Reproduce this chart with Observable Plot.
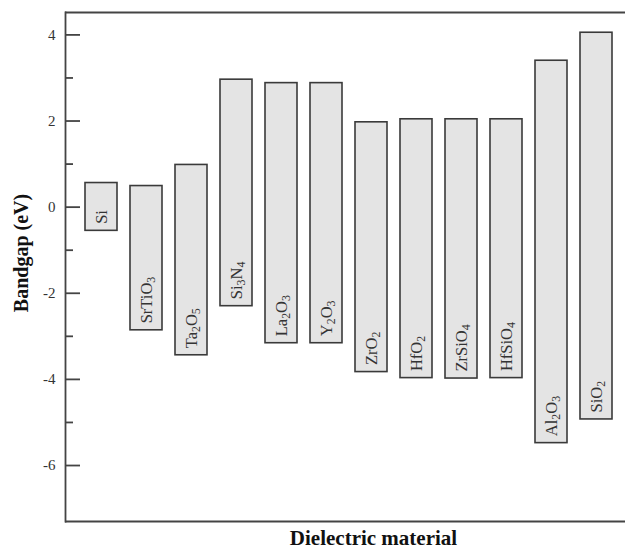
<!DOCTYPE html>
<html>
<head>
<meta charset="utf-8">
<script src="https://cdn.jsdelivr.net/npm/d3@7"></script>
<script src="https://cdn.jsdelivr.net/npm/@observablehq/plot@0.6"></script>
<style>
  html, body { margin: 0; padding: 0; background: #fff; }
  #chart svg { display: block; }
</style>
</head>
<body>
<div id="chart"></div>
<script>
// Dielectric materials (in plot order)
const materials = ["Si", "SrTiO₃", "Ta₂O₅", "Si₃N₄", "La₂O₃", "Y₂O₃", "ZrO₂", "HfO₂", "ZrSiO₄", "HfSiO₄", "Al₂O₃", "SiO₂"];
// Conduction-band edge (top of bar), eV
const conductionBand = [0.56, 0.49, 0.98, 2.96, 2.88, 2.88, 1.97, 2.04, 2.04, 2.04, 3.40, 4.05];
// Valence-band edge (bottom of bar), eV
const valenceBand = [-0.55, -2.86, -3.44, -2.30, -3.16, -3.16, -3.83, -3.97, -3.98, -3.97, -5.48, -4.93];
// Axis ticks
const majorTicks = [-6, -4, -2, 0, 2, 4];
const minorTicks = [-5, -3, -1, 1, 3];
const yDomain = [-7.3, 4.52];
const yLabel = "Bandgap (eV)";
const xLabel = "Dielectric material";

const data = materials.map((name, i) => ({name, cb: conductionBand[i], vb: valenceBand[i]}));

const serif = "'Liberation Serif', 'DejaVu Serif', 'Times New Roman', serif";

const chart = Plot.plot({
  width: 625,
  height: 549,
  marginTop: 12,
  marginBottom: 28,
  marginLeft: 65,
  marginRight: 0,
  style: {fontFamily: serif, background: "#fff"},
  x: {domain: materials, range: [65, 632.7], paddingInner: 0.278, paddingOuter: 0.35, axis: null},
  y: {domain: yDomain},
  marks: [
    Plot.ruleY(yDomain, {stroke: "#444", strokeWidth: 1.8}),
    Plot.frame({anchor: "left", stroke: "#444", strokeWidth: 1.8}),
    // inward ticks: drawn as a right-anchored axis placed on the left frame edge
    Plot.axisY({ticks: majorTicks, anchor: "right", frameAnchor: "left", tickSize: 14, fill: "none", stroke: "#444", strokeWidth: 1.8, label: null}),
    Plot.axisY({ticks: minorTicks, anchor: "right", frameAnchor: "left", tickSize: 7, fill: "none", stroke: "#444", strokeWidth: 1.8, label: null}),
    Plot.axisY({ticks: majorTicks, tickSize: 0, tickPadding: 10, tickFormat: d => String(d), fontSize: 15, fill: "#333", label: null}),
    Plot.barY(data, {x: "name", y1: "vb", y2: "cb", fill: "#e4e4e4", stroke: "#3a3a3a", strokeWidth: 1.6}),
    Plot.text(data, {x: "name", y: "vb", text: "name", rotate: -90, textAnchor: "start", lineAnchor: "middle", dy: -7, fontSize: 16.5, fill: "#333", fontFamily: serif}),
    Plot.text([yLabel], {frameAnchor: "left", text: d => d, rotate: -90, textAnchor: "middle", dx: -44, dy: -14, fontSize: 20, fontWeight: "bold", fill: "#111", lineAnchor: "middle", fontFamily: serif}),
    Plot.text([xLabel], {frameAnchor: "bottom", text: d => d, textAnchor: "middle", dx: 28, dy: 17, fontSize: 21, fontWeight: "bold", fill: "#111", lineAnchor: "middle", fontFamily: serif})
  ]
});

// Render Unicode subscript digits as real subscripts (smaller, shifted) for a typeset look
const subMap = {"₀":"0","₁":"1","₂":"2","₃":"3","₄":"4","₅":"5","₆":"6","₇":"7","₈":"8","₉":"9"};
d3.select(chart).selectAll("text").each(function() {
  const t = this.textContent;
  if (!/[₀-₉]/.test(t)) return;
  const sel = d3.select(this);
  sel.text(null);
  const runs = t.match(/[₀-₉]+|[^₀-₉]+/g);
  for (const r of runs) {
    if (/[₀-₉]/.test(r)) {
      sel.append("tspan").attr("font-size", "0.72em").attr("dy", "0.3em")
        .text(r.replace(/[₀-₉]/g, c => subMap[c]));
    } else {
      const prevSub = sel.node().lastChild && sel.node().lastChild.getAttribute && sel.node().lastChild.getAttribute("font-size");
      const ts = sel.append("tspan").text(r);
      if (prevSub) ts.attr("dy", "-0.216em");
    }
  }
});
document.getElementById("chart").appendChild(chart);
</script>
</body>
</html>
